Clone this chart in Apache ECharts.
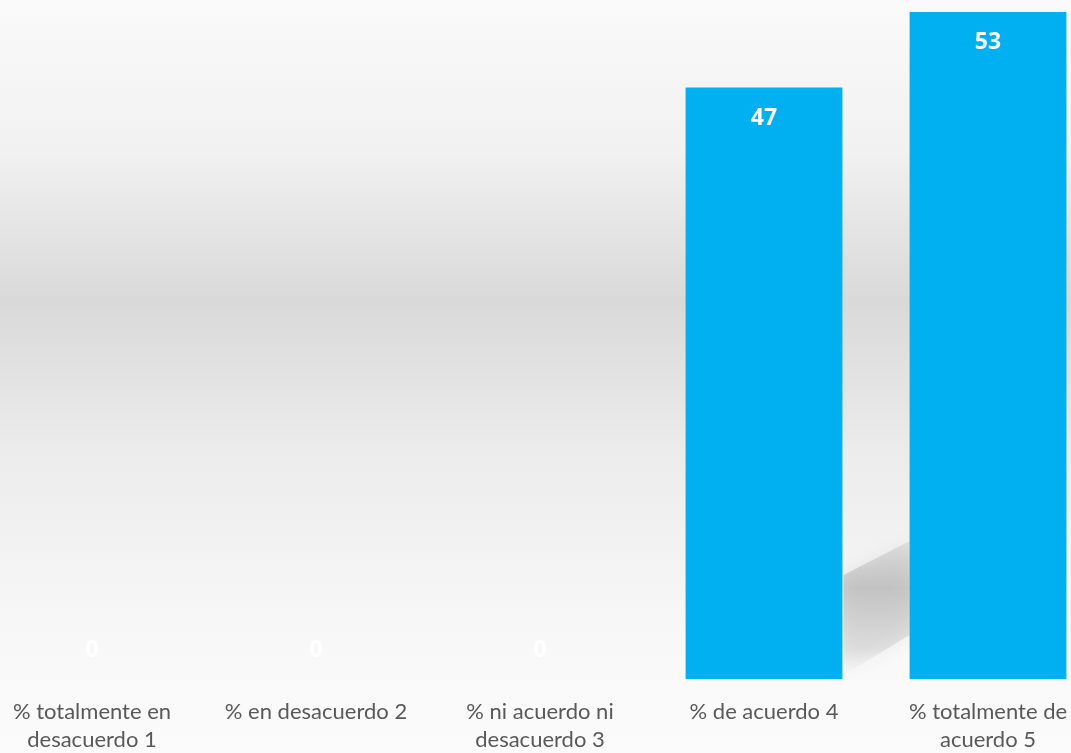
<!DOCTYPE html>
<html><head><meta charset="utf-8">
<style>html,body{margin:0;padding:0;background:#fafafa}#c{width:1071px;height:753px}</style>
<script src="https://cdn.jsdelivr.net/npm/echarts@6/dist/echarts.min.js"></script>
</head><body><div id="c"></div>
<script>
const categories = ['% totalmente en\ndesacuerdo 1', '% en desacuerdo 2', '% ni acuerdo ni\ndesacuerdo 3', '% de acuerdo 4', '% totalmente de\nacuerdo 5'];
const values = [0, 0, 0, 47, 53];

const chart = echarts.init(document.getElementById('c'));
chart.setOption({
  backgroundColor: new echarts.graphic.LinearGradient(0, 0, 0, 1, [
    {offset: 0, color: '#fafafa'},
    {offset: 0.2, color: '#f1f1f1'},
    {offset: 0.4, color: '#d9d9d9'},
    {offset: 0.6, color: '#ececec'},
    {offset: 0.85, color: '#f8f8f8'},
    {offset: 1, color: '#fbfbfb'}
  ]),
  animation: false,
  grid: {left: -20, right: -29, top: 12, bottom: 74, containLabel: false, outerBoundsMode: 'none'},
  xAxis: {
    type: 'category', data: categories,
    axisLine: {show: false}, axisTick: {show: false},
    axisLabel: {color: '#595959', fontFamily: 'Lato', fontSize: 22, lineHeight: 28, margin: 19, interval: 0}
  },
  yAxis: {type: 'value', min: 0, max: 53, show: false, splitLine: {show: false}},
  series: [{
    type: 'bar', barWidth: '70%', z: 3,
    data: values.map(v => v === 0
      ? {value: v, label: {position: 'top', distance: 17, color: 'rgba(255,255,255,0.9)'}}
      : {value: v}),
    itemStyle: {color: '#00b0f0'},
    label: {show: true, position: 'insideTop', distance: 19, color: '#ffffff', fontWeight: 'bold', fontSize: 23, fontFamily: 'Open Sans'}
  }]
});

// soft cast shadow of the last bar onto the background (decoration)
const last = values.length - 1;
const base = chart.convertToPixel({gridIndex: 0}, [last, 0]);
const step = base[0] - chart.convertToPixel({gridIndex: 0}, [last - 1, 0])[0];
const bx = base[0] - step * 0.35; // left edge of last bar
chart.setOption({
  graphic: [{
    type: 'polygon', z: 1, silent: true,
    shape: {points: [[bx - 66, base[1] - 104], [bx, base[1] - 138], [bx, base[1] - 44], [bx - 66, base[1] - 4]]},
    style: {
      fill: new echarts.graphic.LinearGradient(0, 0, 0, 1, [
        {offset: 0, color: 'rgba(170,170,170,0.25)'},
        {offset: 0.35, color: 'rgba(170,170,170,0.55)'},
        {offset: 0.8, color: 'rgba(190,190,190,0.35)'},
        {offset: 1, color: 'rgba(230,230,230,0.1)'}
      ]),
      shadowBlur: 18, shadowColor: 'rgba(170,170,170,0.5)'
    }
  }]
});
</script></body></html>
